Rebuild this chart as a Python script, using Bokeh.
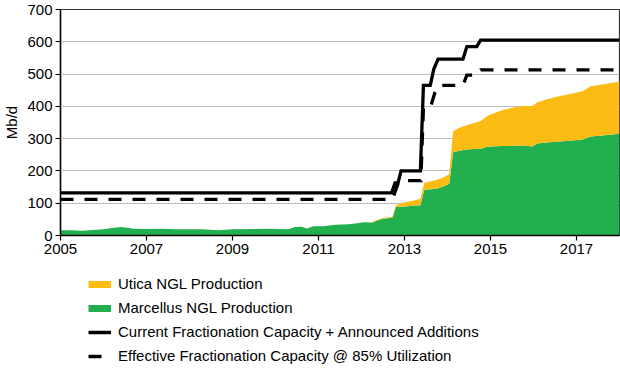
from bokeh.plotting import figure
from bokeh.layouts import column
from bokeh.models import FixedTicker, Legend, LegendItem, ColumnDataSource
from bokeh.embed import file_html
from bokeh.resources import INLINE

# ---- data ----
years = [2005.00, 2005.25, 2005.50, 2005.75, 2006.00, 2006.20, 2006.40, 2006.55, 2006.70,
         2007.00, 2007.35, 2007.70, 2008.00, 2008.30, 2008.67, 2009.00, 2009.50, 2009.85,
         2010.30, 2010.45, 2010.60, 2010.73, 2010.88, 2011.10, 2011.40, 2011.70, 2011.90,
         2012.05, 2012.25, 2012.35, 2012.50, 2012.72, 2012.80, 2013.00, 2013.20, 2013.37,
         2013.46, 2013.75, 2013.90, 2014.04, 2014.13, 2014.30, 2014.50, 2014.77, 2014.90,
         2015.00, 2015.27, 2015.58, 2015.81, 2015.97, 2016.09, 2016.30, 2016.59, 2016.90,
         2017.14, 2017.33, 2017.60, 2018.00]
marcellus = [16, 16, 15, 17, 19, 23, 26, 24, 21,
             20, 21, 19, 19, 19, 16, 19, 20, 21,
             19, 26, 27, 22, 29, 29, 33, 35, 38,
             41, 40, 46, 52, 55, 88, 90, 92, 94,
             142, 145, 152, 160, 258, 263, 267, 269, 274,
             276, 277, 278, 279, 276, 285, 288, 291, 294,
             297, 307, 310, 315]
utica = [0, 0, 0, 0, 0, 0, 0, 0, 0,
         0, 0, 0, 0, 0, 0, 0, 0, 0,
         0, 0, 0, 0, 0, 0, 0, 0, 0,
         0, 1, 2, 2, 3, 6, 13, 16, 20,
         21, 27, 28, 30, 65, 72, 77, 86, 94,
         99, 111, 120, 123, 124, 128, 133, 140, 146,
         150, 155, 158, 162]

cap_years = [2005.0, 2012.70, 2012.78, 2012.85, 2012.92, 2013.37, 2013.44, 2013.60, 2013.68,
             2013.78, 2014.36, 2014.45, 2014.68, 2014.77, 2018.0]
cap_values = [132, 132, 163, 163, 200, 200, 465, 465, 515,
              546, 546, 585, 585, 605, 605]

eff_years = [2005.0, 2012.72, 2012.86, 2012.95, 2013.38, 2013.44, 2013.60, 2013.70, 2013.80,
             2014.36, 2014.45, 2014.68, 2014.77, 2018.0]
eff_values = [112, 112, 165, 170, 170, 395, 395, 440, 465,
              465, 497, 497, 513, 513]

x_ticks = [2005, 2007, 2009, 2011, 2013, 2015, 2017]
y_ticks = [0, 100, 200, 300, 400, 500, 600, 700]

legend_labels = ["Utica NGL Production",
                 "Marcellus NGL Production",
                 "Current Fractionation Capacity + Announced Additions",
                 "Effective Fractionation Capacity @ 85% Utilization"]

GREEN = "#22AF50"
YELLOW = "#FDBC13"
FONT = "Liberation Sans"
FS = "15px"

total = [m + u for m, u in zip(marcellus, utica)]
src = ColumnDataSource(dict(x=years, m=marcellus, t=total, zero=[0] * len(years)))

p = figure(frame_width=559, frame_height=226, x_range=(2005, 2018), y_range=(0, 700),
           output_backend="svg", toolbar_location=None,
           min_border_top=9, min_border_bottom=26, min_border_right=3, min_border_left=0)

p.varea(x="x", y1="zero", y2="m", source=src, fill_color=GREEN, fill_alpha=1)
p.varea(x="x", y1="m", y2="t", source=src, fill_color=YELLOW, fill_alpha=1)

p.line(cap_years, cap_values, line_color="black", line_width=3.3, line_join="miter")
p.line(eff_years, eff_values, line_color="black", line_width=3.3, line_dash="13 11", line_join="miter")

# axes
p.xaxis.ticker = FixedTicker(ticks=x_ticks)
p.yaxis.ticker = FixedTicker(ticks=y_ticks)
for ax in (p.xaxis, p.yaxis):
    ax.axis_line_color = "black"
    ax.axis_line_width = 1.5
    ax.major_tick_line_color = "black"
    ax.major_tick_line_width = 1.2
    ax.major_tick_in = 0
    ax.major_tick_out = 5
    ax.minor_tick_line_color = None
    ax.major_label_text_font = FONT
    ax.major_label_text_font_size = FS
    ax.major_label_text_color = "black"
    ax.major_label_standoff = 3
p.yaxis.axis_label = "Mb/d"
p.yaxis.axis_label_text_font = FONT
p.yaxis.axis_label_text_font_size = FS
p.yaxis.axis_label_text_font_style = "normal"
p.yaxis.axis_label_text_color = "black"
p.yaxis.axis_label_standoff = 4

p.xgrid.grid_line_color = None
p.ygrid.grid_line_color = "#BDBDBD"
p.ygrid.grid_line_width = 1
p.outline_line_color = "#333333"
p.outline_line_width = 1.2
p.background_fill_color = "white"
p.border_fill_color = "white"

# ---- legend strip below the chart ----
lg = figure(width=620, height=106, x_range=(0, 1), y_range=(0, 1),
            output_backend="svg", toolbar_location=None,
            min_border=0, min_border_left=0, min_border_right=0, min_border_top=0, min_border_bottom=0)
lg.axis.visible = False
lg.grid.visible = False
lg.outline_line_color = None
lg.border_fill_color = "white"

nan = float("nan")
l_ut = lg.line(x=[nan], y=[nan], line_color=YELLOW, line_width=7, line_cap="butt")
l_mc = lg.line(x=[nan], y=[nan], line_color=GREEN, line_width=7, line_cap="butt")
l_cap = lg.line(x=[nan], y=[nan], line_color="black", line_width=3.5, line_cap="butt")
l_eff = lg.line(x=[nan], y=[nan], line_color="black", line_width=3.5, line_dash="13 11", line_cap="butt")

legend = Legend(items=[
    LegendItem(label=legend_labels[0], renderers=[l_ut]),
    LegendItem(label=legend_labels[1], renderers=[l_mc]),
    LegendItem(label=legend_labels[2], renderers=[l_cap]),
    LegendItem(label=legend_labels[3], renderers=[l_eff]),
], location=(28, 3), padding=0, margin=0, spacing=7, glyph_width=23, glyph_height=16,
   label_height=16, label_standoff=7, border_line_color=None, background_fill_alpha=0,
   label_text_font=FONT, label_text_font_size=FS, label_text_color="black")
lg.add_layout(legend, "center")

layout = column(p, lg, spacing=0)
open("out.html", "w").write(file_html(layout, INLINE))
